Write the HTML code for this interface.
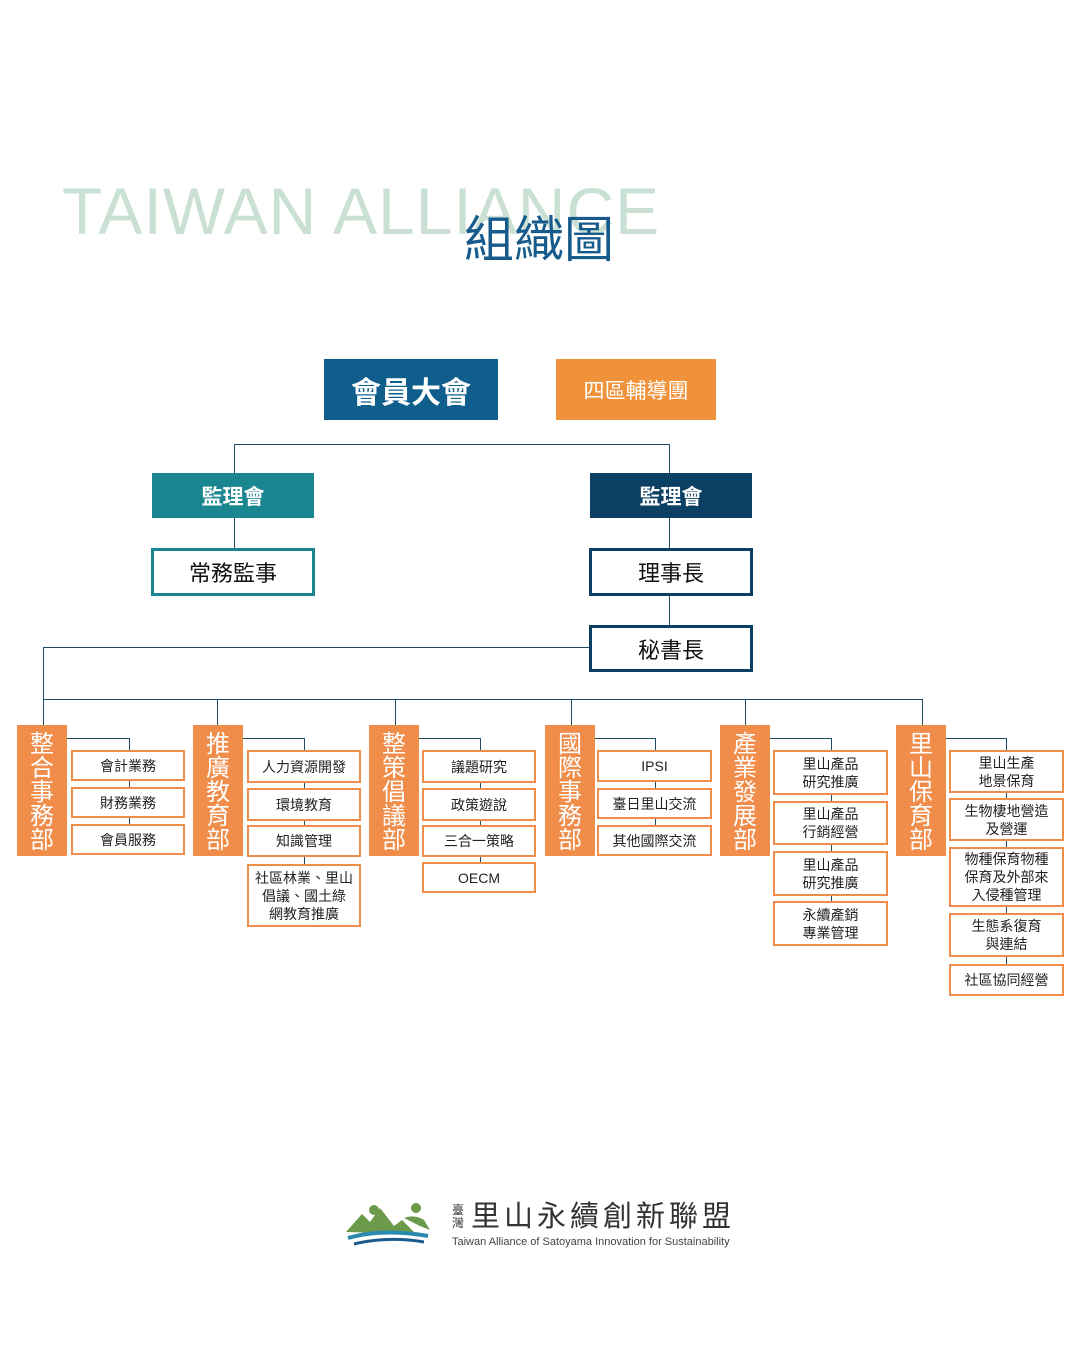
<!DOCTYPE html>
<html><head><meta charset="utf-8"><style>
body{margin:0;width:1080px;height:1350px;background:#fff;position:relative;overflow:hidden;font-family:"Liberation Sans","Noto Sans CJK TC",sans-serif;}
div{position:absolute;box-sizing:border-box;}
.c{display:flex;align-items:center;justify-content:center;text-align:center;}
.h{background:#1e4a66;height:1px;}
.v{background:#1e4a66;width:1px;}
.d{background:#f08d4b;color:#fff;font-size:24px;line-height:24px;width:50px;height:131px;top:725px;padding-top:8px;text-align:center;}
.s{border:2.5px solid #f08d4b;background:#fff;color:#222;font-size:14px;line-height:18px;display:flex;align-items:center;justify-content:center;text-align:center;}
</style></head><body>
<div style="left:62px;top:173px;font-size:66px;color:#c9e0d3;white-space:nowrap;letter-spacing:1px">TAIWAN ALLIANCE</div>
<div style="left:464px;top:210px;font-size:50px;color:#175b8c;white-space:nowrap;line-height:60px">組織圖</div>

<div class="c" style="left:324px;top:359px;width:174px;height:61px;background:#0f5e8c;color:#fff;font-size:30px;font-weight:bold">會員大會</div>
<div class="c" style="left:556px;top:359px;width:160px;height:61px;background:#f0923a;color:#fff;font-size:21px">四區輔導團</div>

<div class="h" style="left:234px;top:444px;width:436px"></div>
<div class="v" style="left:234px;top:444px;height:104px"></div>
<div class="v" style="left:669px;top:444px;height:181px"></div>
<div class="c" style="left:152px;top:473px;width:162px;height:45px;background:#1a8790;color:#fff;font-size:21px;font-weight:bold">監理會</div>
<div class="c" style="left:590px;top:473px;width:162px;height:45px;background:#0b3f63;color:#fff;font-size:21px;font-weight:bold">監理會</div>
<div class="c" style="left:151px;top:548px;width:164px;height:48px;border:3px solid #1a8790;background:#fff;color:#111;font-size:22px">常務監事</div>
<div class="c" style="left:589px;top:548px;width:164px;height:48px;border:3px solid #0b3f63;background:#fff;color:#111;font-size:22px">理事長</div>
<div class="c" style="left:589px;top:625px;width:164px;height:47px;border:3px solid #0b3f63;background:#fff;color:#111;font-size:22px">秘書長</div>

<div class="h" style="left:43px;top:647px;width:546px"></div>
<div class="v" style="left:43px;top:647px;height:78px"></div>
<div class="h" style="left:43px;top:699px;width:880px"></div>
<div class="v" style="left:217px;top:699px;height:26px"></div>
<div class="v" style="left:395px;top:699px;height:26px"></div>
<div class="v" style="left:571px;top:699px;height:26px"></div>
<div class="v" style="left:745px;top:699px;height:26px"></div>
<div class="v" style="left:922px;top:699px;height:26px"></div>

<div class="h" style="left:67px;top:738px;width:62px"></div>
<div class="v" style="left:129px;top:738px;height:100px"></div>
<div class="d" style="left:17px">整<br>合<br>事<br>務<br>部</div>
<div class="s" style="left:71px;top:750px;width:114px;height:31px">會計業務</div>
<div class="s" style="left:71px;top:787px;width:114px;height:31px">財務業務</div>
<div class="s" style="left:71px;top:824px;width:114px;height:31px">會員服務</div>

<div class="h" style="left:243px;top:738px;width:61px"></div>
<div class="v" style="left:304px;top:738px;height:140px"></div>
<div class="d" style="left:193px">推<br>廣<br>教<br>育<br>部</div>
<div class="s" style="left:247px;top:750px;width:114px;height:33px">人力資源開發</div>
<div class="s" style="left:247px;top:788px;width:114px;height:33px">環境教育</div>
<div class="s" style="left:247px;top:825px;width:114px;height:32px">知識管理</div>
<div class="s" style="left:247px;top:864px;width:114px;height:63px">社區林業、里山<br>倡議、國土綠<br>網教育推廣</div>

<div class="h" style="left:419px;top:738px;width:61px"></div>
<div class="v" style="left:480px;top:738px;height:140px"></div>
<div class="d" style="left:369px">整<br>策<br>倡<br>議<br>部</div>
<div class="s" style="left:422px;top:750px;width:114px;height:33px">議題研究</div>
<div class="s" style="left:422px;top:788px;width:114px;height:33px">政策遊說</div>
<div class="s" style="left:422px;top:825px;width:114px;height:32px">三合一策略</div>
<div class="s" style="left:422px;top:862px;width:114px;height:31px">OECM</div>

<div class="h" style="left:595px;top:738px;width:60px"></div>
<div class="v" style="left:655px;top:738px;height:100px"></div>
<div class="d" style="left:545px">國<br>際<br>事<br>務<br>部</div>
<div class="s" style="left:597px;top:750px;width:115px;height:32px">IPSI</div>
<div class="s" style="left:597px;top:788px;width:115px;height:31px">臺日里山交流</div>
<div class="s" style="left:597px;top:825px;width:115px;height:31px">其他國際交流</div>

<div class="h" style="left:770px;top:738px;width:61px"></div>
<div class="v" style="left:831px;top:738px;height:180px"></div>
<div class="d" style="left:720px">產<br>業<br>發<br>展<br>部</div>
<div class="s" style="left:773px;top:750px;width:115px;height:45px">里山產品<br>研究推廣</div>
<div class="s" style="left:773px;top:801px;width:115px;height:44px">里山產品<br>行銷經營</div>
<div class="s" style="left:773px;top:851px;width:115px;height:45px">里山產品<br>研究推廣</div>
<div class="s" style="left:773px;top:901px;width:115px;height:45px">永續產銷<br>專業管理</div>

<div class="h" style="left:946px;top:738px;width:60px"></div>
<div class="v" style="left:1006px;top:738px;height:240px"></div>
<div class="d" style="left:896px">里<br>山<br>保<br>育<br>部</div>
<div class="s" style="left:949px;top:750px;width:115px;height:43px">里山生產<br>地景保育</div>
<div class="s" style="left:949px;top:798px;width:115px;height:43px">生物棲地營造<br>及營運</div>
<div class="s" style="left:949px;top:847px;width:115px;height:60px">物種保育物種<br>保育及外部來<br>入侵種管理</div>
<div class="s" style="left:949px;top:913px;width:115px;height:44px">生態系復育<br>與連結</div>
<div class="s" style="left:949px;top:964px;width:115px;height:32px">社區協同經營</div>

<svg style="position:absolute;left:344px;top:1200px" width="92" height="50" viewBox="0 0 92 50">
<path d="M2 32 L18 14 L26 22 L36 8 L50 26 L58 20 L72 34 Z" fill="#6a9a4a"/>
<circle cx="30" cy="10" r="5" fill="#6a9a4a"/><circle cx="72" cy="8" r="5" fill="#6a9a4a"/>
<path d="M60 18 Q70 14 80 20 L86 30 L76 26 Z" fill="#6a9a4a"/>
<path d="M4 38 Q40 28 84 36" stroke="#2a8ab0" stroke-width="4" fill="none"/>
<path d="M10 44 Q44 36 80 42" stroke="#1a5a8c" stroke-width="3" fill="none"/>
</svg>
<div style="left:452px;top:1204px;font-size:12px;line-height:13px;color:#333;width:16px">臺<br>灣</div>
<div style="left:471px;top:1199px;font-size:29px;color:#333;letter-spacing:4px;white-space:nowrap;line-height:36px">里山永續創新聯盟</div>
<div style="left:452px;top:1236px;font-size:11px;color:#444;white-space:nowrap">Taiwan Alliance of Satoyama Innovation for Sustainability</div>
</body></html>
